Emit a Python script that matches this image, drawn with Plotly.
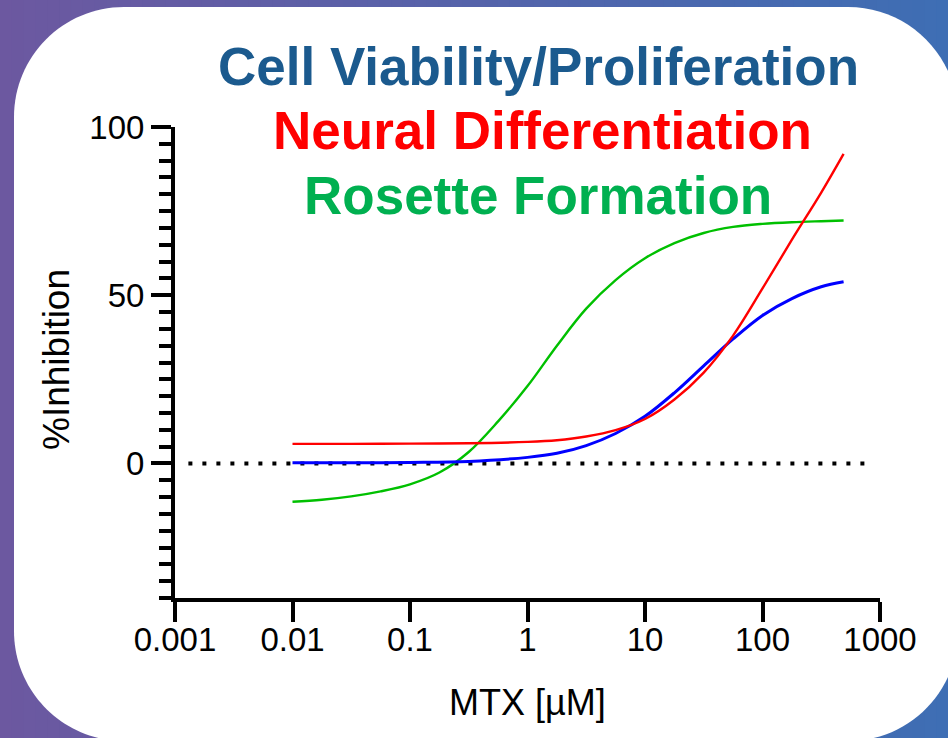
import plotly.graph_objects as go

# ---------------- data ----------------
dose_um = [0.01, 0.0316, 0.1, 0.316, 1, 1.78, 3.16, 5.62, 10, 17.8, 31.6, 56.2, 100, 178, 316, 490]

viability = [0.2, 0.2, 0.3, 0.6, 1.8, 3.0, 5.3, 8.9, 14.0, 21.0, 29.0, 37.0, 44.0, 49.0, 52.5, 54.0]
neural = [5.8, 5.8, 5.9, 6.0, 6.4, 6.9, 8.0, 9.9, 13.2, 19.0, 27.0, 38.0, 52.0, 66.5, 80.5, 92.0]

dose_rosette = [0.01, 0.0178, 0.0316, 0.0562, 0.1, 0.178, 0.316, 0.562, 1, 1.78, 3.16, 5.62, 10,
                17.8, 31.6, 56.2, 100, 178, 316, 490]
rosette = [-11.4, -10.8, -9.8, -8.3, -6.2, -2.7, 3.4, 12.5, 23.0, 35.0, 46.0, 54.5, 61.0,
           65.5, 68.5, 70.3, 71.2, 71.7, 72.0, 72.2]

baseline_x = [0.0013, 800]
baseline_y = [0, 0]

x_tickvals = [0.001, 0.01, 0.1, 1, 10, 100, 1000]
x_ticktext = ["0.001", "0.01", "0.1", "1", "10", "100", "1000"]
y_tickvals = [0, 50, 100]

title_lines = ["Cell Viability/Proliferation", "Neural Differentiation", "Rosette Formation"]
title_colors = ["#1b5a8e", "#ff0000", "#00b050"]

# ---------------- geometry helpers ----------------
W, H = 948, 738
L, R, T, B = 175, 880, 127, 598   # plot area in pixels
PW, PH = R - L, B - T


def X(px):
    return (px - L) / PW


def Y(py):
    return (B - py) / PH


FONT = "Liberation Sans, Arial, sans-serif"

fig = go.Figure()

fig.add_trace(go.Scatter(x=baseline_x, y=baseline_y, mode="lines",
                         line=dict(color="black", width=4, dash="4px,10px"),
                         hoverinfo="skip", showlegend=False))
fig.add_trace(go.Scatter(x=dose_rosette, y=rosette, mode="lines", line_shape="spline",
                         line=dict(color="#00c000", width=2.4), name="Rosette Formation",
                         showlegend=False))
fig.add_trace(go.Scatter(x=dose_um, y=viability, mode="lines", line_shape="spline",
                         line=dict(color="#0000ff", width=3), name="Cell Viability/Proliferation",
                         showlegend=False))
fig.add_trace(go.Scatter(x=dose_um, y=neural, mode="lines", line_shape="spline",
                         line=dict(color="#ff0000", width=2.4), name="Neural Differentiation",
                         showlegend=False))

# ---------------- background: gradient + white rounded card ----------------
shapes = []
c0 = (108, 88, 160)
c1 = (62, 110, 180)
n = 80
for i in range(n):
    t = i / (n - 1)
    col = "rgb(%d,%d,%d)" % tuple(round(a + (b - a) * t) for a, b in zip(c0, c1))
    x0 = i * W / n
    x1 = (i + 1) * W / n + 1
    shapes.append(dict(type="rect", xref="paper", yref="paper", layer="below",
                       x0=X(x0), x1=X(x1), y0=Y(H + 5), y1=Y(-5),
                       line=dict(width=0), fillcolor=col))

cl, ct, cr, cb, rad = 14, 7, 958, 741, 110
k = 0.5523 * rad


def P(px, py):
    return "%.5f,%.5f" % (X(px), Y(py))


path = ("M " + P(cl + rad, ct) + " L " + P(cr - rad, ct) +
        " C " + P(cr - rad + k, ct) + " " + P(cr, ct + rad - k) + " " + P(cr, ct + rad) +
        " L " + P(cr, cb - rad) +
        " C " + P(cr, cb - rad + k) + " " + P(cr - rad + k, cb) + " " + P(cr - rad, cb) +
        " L " + P(cl + rad, cb) +
        " C " + P(cl + rad - k, cb) + " " + P(cl, cb - rad + k) + " " + P(cl, cb - rad) +
        " L " + P(cl, ct + rad) +
        " C " + P(cl, ct + rad - k) + " " + P(cl + rad - k, ct) + " " + P(cl + rad, ct) + " Z")
shapes.append(dict(type="path", xref="paper", yref="paper", layer="below", path=path,
                   fillcolor="white", line=dict(width=0)))

# ---------------- annotations ----------------
annotations = []
title_cx = [538, 542, 538]
title_cy = [66, 130, 195]
for txt, col, cx, cy in zip(title_lines, title_colors, title_cx, title_cy):
    annotations.append(dict(text="<b>%s</b>" % txt, x=X(cx), y=Y(cy), xref="paper", yref="paper",
                            xanchor="center", yanchor="middle", showarrow=False,
                            font=dict(family=FONT, size=53, color=col)))

annotations.append(dict(text="%Inhibition", x=X(56), y=Y(360), xref="paper", yref="paper",
                        textangle=-90, xanchor="center", yanchor="middle", showarrow=False,
                        font=dict(family=FONT, size=37, color="black")))
annotations.append(dict(text="MTX [µM]", x=X(527), y=Y(702), xref="paper", yref="paper",
                        xanchor="center", yanchor="middle", showarrow=False,
                        font=dict(family=FONT, size=36, color="black")))

fig.update_layout(
    width=W, height=H,
    margin=dict(l=L, r=W - R, t=T, b=H - B, pad=0),
    paper_bgcolor="rgb(85,99,170)",
    plot_bgcolor="rgba(0,0,0,0)",
    showlegend=False,
    hovermode=False,
    shapes=shapes,
    annotations=annotations,
    xaxis=dict(type="log", range=[-3, 3], tickmode="array", tickvals=x_tickvals,
               ticktext=x_ticktext, showgrid=False, zeroline=False,
               showline=True, linecolor="black", linewidth=4,
               ticks="outside", ticklen=20, tickwidth=4, tickcolor="black",
               ticklabelstandoff=-11,
               tickfont=dict(family=FONT, size=33, color="black")),
    yaxis=dict(range=[-40, 100], tickmode="array", tickvals=y_tickvals,
               showgrid=False, zeroline=False,
               showline=True, linecolor="black", linewidth=4,
               ticks="outside", ticklen=20, tickwidth=4, tickcolor="black",
               tickfont=dict(family=FONT, size=33, color="black"),
               minor=dict(tickmode="linear", tick0=0, dtick=5, ticks="outside",
                          ticklen=12, tickwidth=3.5, tickcolor="black")),
)

fig.write_html("out.html", config={"displayModeBar": False},
               post_script="document.body.style.margin='0px';")
